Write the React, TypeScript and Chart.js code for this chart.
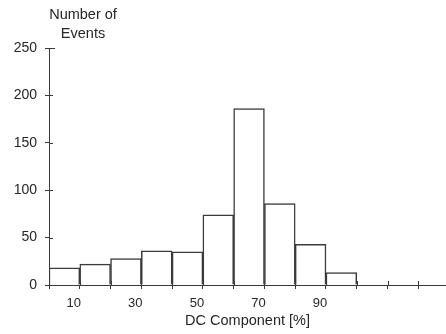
import React, { useEffect, useRef } from "react";
import { Chart, registerables } from "chart.js";

Chart.register(...registerables);

const binCenters = [5, 15, 25, 35, 45, 55, 65, 75, 85, 95];
const eventCounts = [18, 22, 28, 36, 35, 74, 186, 86, 43, 13];
const xLabelValues = [10, 30, 50, 70, 90];
const xTickValues = [0, 10, 20, 30, 40, 50, 60, 70, 80, 90, 100, 110, 120];
const yTickValues = [0, 50, 100, 150, 200, 250];
const yTitleLines = ["Number of", "Events"];
const xTitle = "DC Component [%]";

const INK = "#3a3a3a";
const TEXT = "#262626";
const FONT = "'Liberation Sans', Arial, sans-serif";

const crossTicks = {
  id: "crossTicks",
  afterDraw(chart: any) {
    const { ctx, chartArea, scales } = chart;
    const x = scales.x;
    const y = scales.y;
    ctx.save();
    ctx.strokeStyle = INK;
    ctx.lineWidth = 1;
    ctx.beginPath();
    for (const v of yTickValues) {
      const py = Math.round(y.getPixelForValue(v)) + 0.5;
      ctx.moveTo(chartArea.left, py);
      ctx.lineTo(chartArea.left + (v === 250 ? 6 : 4), py);
    }
    for (const v of xTickValues) {
      const px = Math.round(x.getPixelForValue(v)) + 0.5;
      ctx.moveTo(px, chartArea.bottom);
      ctx.lineTo(px, chartArea.bottom - 4);
    }
    ctx.stroke();
    ctx.fillStyle = TEXT;
    ctx.font = `14.5px ${FONT}`;
    ctx.textAlign = "center";
    ctx.textBaseline = "middle";
    const cx = chartArea.left + 34;
    ctx.fillText(yTitleLines[0], cx, 15);
    ctx.fillText(yTitleLines[1], cx, 34);
    ctx.restore();
  },
};

export default function App() {
  const ref = useRef<HTMLCanvasElement>(null);
  useEffect(() => {
    if (!ref.current) return;
    const chart = new Chart(ref.current, {
      type: "bar",
      data: {
        datasets: [
          {
            data: binCenters.map((c, i) => ({ x: c, y: eventCounts[i] })),
            backgroundColor: "#ffffff",
            borderColor: INK,
            borderWidth: 1.5,
            barPercentage: 1,
            categoryPercentage: 1,
          },
        ],
      },
      options: {
        responsive: false,
        animation: false,
        events: [],
        layout: { autoPadding: false, padding: { top: 48, left: 0, right: -6, bottom: 0 } },
        plugins: { legend: { display: false }, tooltip: { enabled: false }, title: { display: false } },
        scales: {
          x: {
            type: "linear",
            min: 0,
            max: 129,
            offset: false,
            afterFit: (s: any) => {
              s.height = 49;
            },
            afterBuildTicks: (s: any) => {
              s.ticks = xTickValues.map((v) => ({ value: v }));
            },
            border: { display: true, color: INK, width: 1 },
            grid: { display: true, offset: false, drawOnChartArea: false, drawTicks: true, tickLength: 4, color: INK },
            ticks: {
              autoSkip: false,
              maxRotation: 0,
              padding: 7,
              labelOffset: -6,
              color: TEXT,
              font: { family: FONT, size: 13 },
              callback: (v: any) => (xLabelValues.includes(Number(v)) ? String(v) : ""),
            },
            title: {
              display: true,
              text: xTitle,
              color: TEXT,
              font: { family: FONT, size: 14.5 },
              padding: { top: 0, bottom: 4 },
            },
          },
          y: {
            type: "linear",
            min: 0,
            max: 250,
            afterFit: (s: any) => {
              s.width = 49;
            },
            afterBuildTicks: (s: any) => {
              s.ticks = yTickValues.map((v) => ({ value: v }));
            },
            border: { display: true, color: INK, width: 1 },
            grid: { display: true, drawOnChartArea: false, drawTicks: true, tickLength: 4, color: INK },
            ticks: {
              padding: 8,
              color: TEXT,
              font: { family: FONT, size: 14 },
            },
          },
        },
      },
      plugins: [crossTicks],
    });
    return () => chart.destroy();
  }, []);
  return (
    <div style={{ position: "absolute", left: 0, top: 0, width: 446, height: 334, background: "#fff" }}>
      <canvas ref={ref} width={446} height={334} style={{ display: "block" }} />
    </div>
  );
}
